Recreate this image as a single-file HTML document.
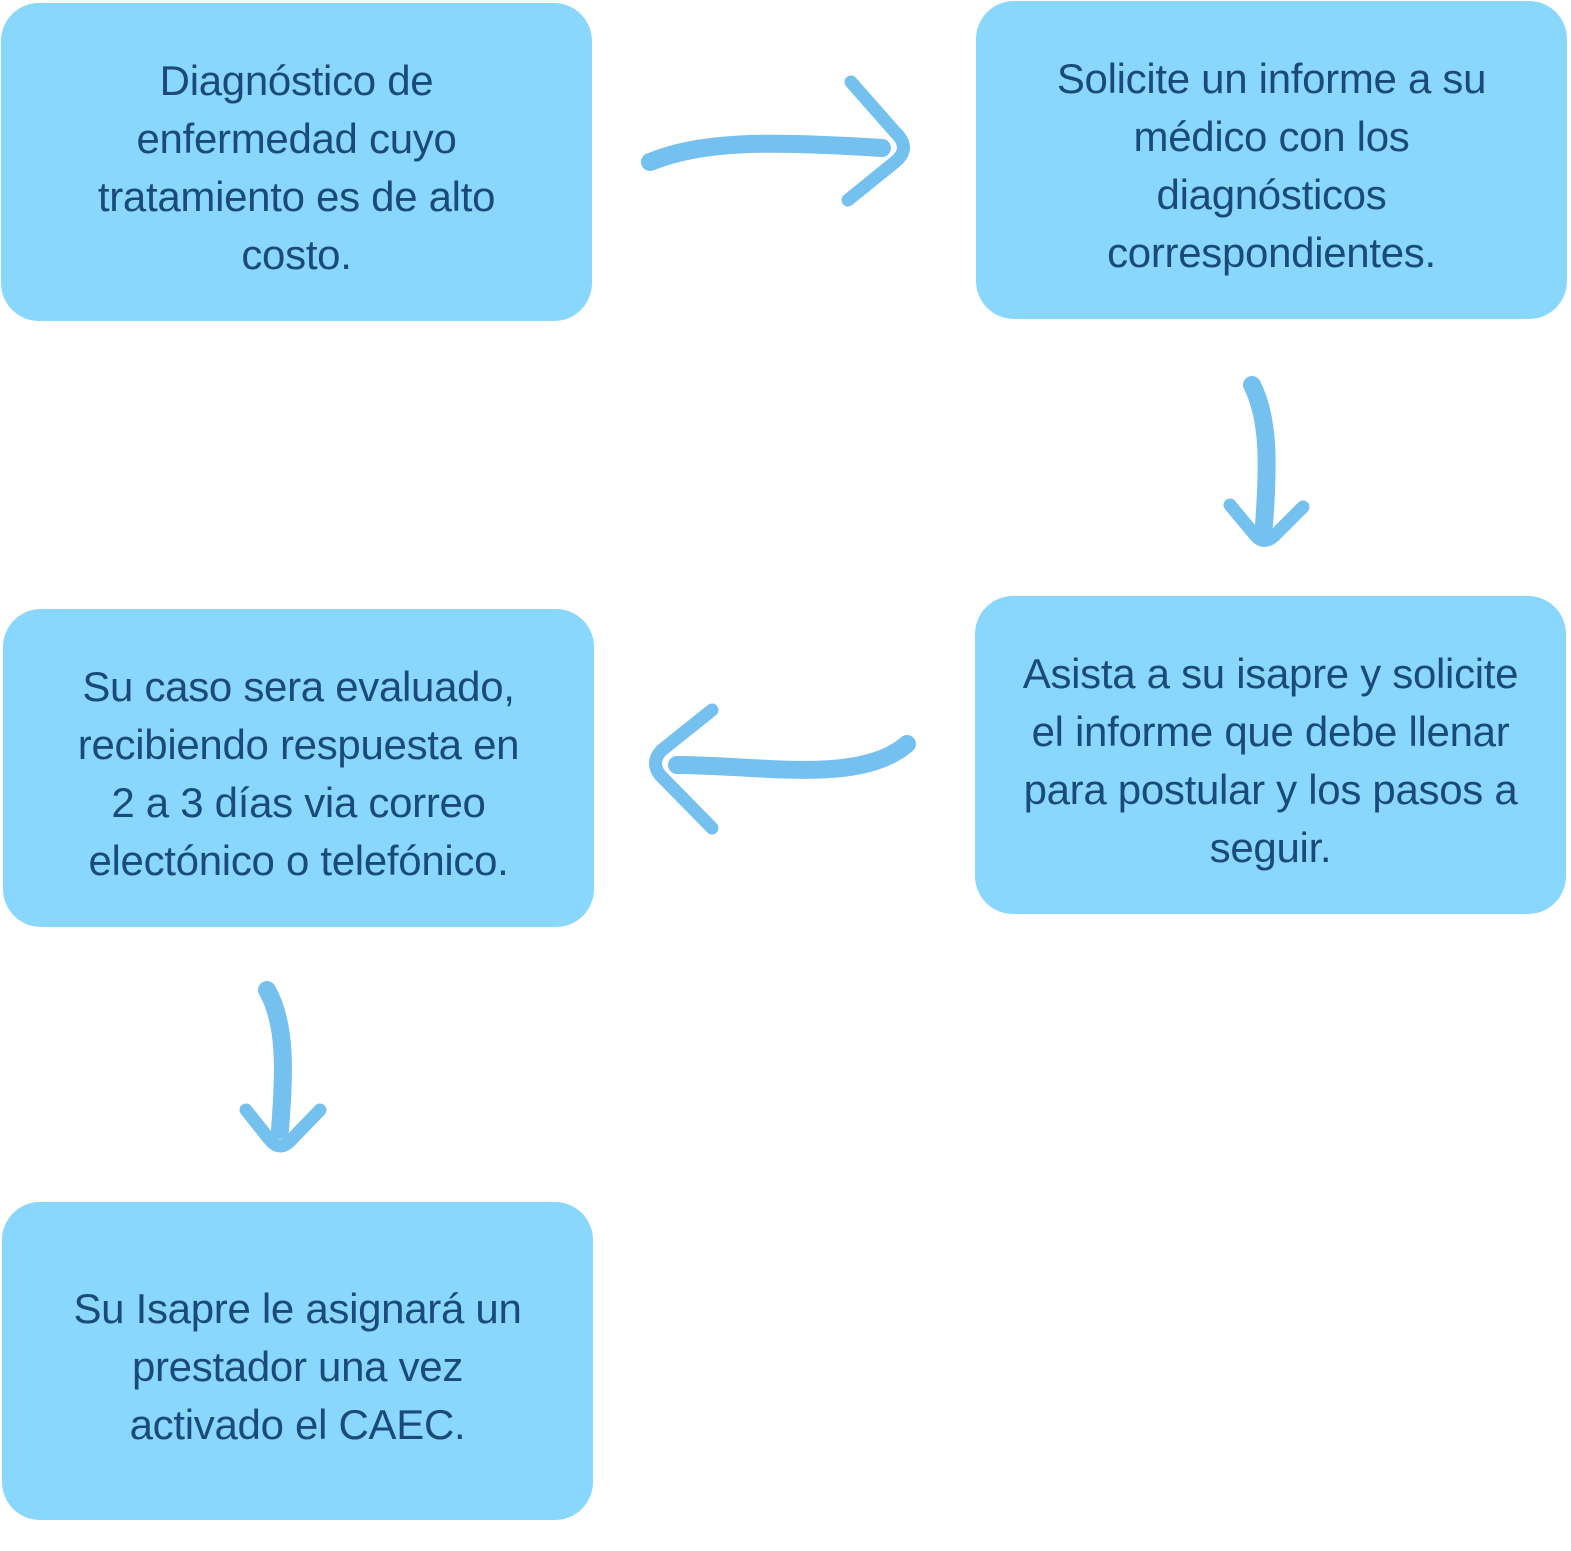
<!DOCTYPE html>
<html><head><meta charset="utf-8"><style>
body{margin:0;width:1571px;height:1551px;background:#fff;position:relative;overflow:hidden;font-family:"Liberation Sans",sans-serif}
.b{position:absolute;width:591px;height:318px;background:#8AD7FD;border-radius:38px;display:flex;align-items:center;justify-content:center;text-align:center;color:#1A4A78;font-size:42px;line-height:58px;letter-spacing:-0.3px}
.b div{margin-top:12px}
svg{position:absolute;left:0;top:0}
</style></head><body>
<div class="b" style="left:1px;top:3px"><div>Diagnóstico de<br>enfermedad cuyo<br>tratamiento es de alto<br>costo.</div></div>
<div class="b" style="left:976px;top:1px"><div>Solicite un informe a su<br>médico con los<br>diagnósticos<br>correspondientes.</div></div>
<div class="b" style="left:975px;top:596px"><div>Asista a su isapre y solicite<br>el informe que debe llenar<br>para postular y los pasos a<br>seguir.</div></div>
<div class="b" style="left:3px;top:609px"><div>Su caso sera evaluado,<br>recibiendo respuesta en<br>2 a 3 días via correo<br>electónico o telefónico.</div></div>
<div class="b" style="left:2px;top:1202px"><div>Su Isapre le asignará un<br>prestador una vez<br>activado el CAEC.</div></div>
<svg width="1571" height="1551" fill="none" stroke="#74C0EE" stroke-linecap="round" stroke-linejoin="round">
<path d="M650,162 C700,142 760,140 882,148" stroke-width="18"/>
<path d="M851,82 L895,132 Q912,148 895,162 L848,200" stroke-width="13"/>
<path d="M1252,385 C1270,420 1268,470 1264,525" stroke-width="18"/>
<path d="M1230,505 L1255,535 Q1264,546 1275,535 L1303,507" stroke-width="13"/>
<path d="M907,744 C860,785 760,765 677,765" stroke-width="18"/>
<path d="M712,710 L662,750 Q650,762 660,775 L712,828" stroke-width="13"/>
<path d="M267,990 C287,1025 284,1075 280,1130" stroke-width="18"/>
<path d="M246,1110 L270,1140 Q280,1152 291,1140 L320,1110" stroke-width="13"/>
</svg>
</body></html>
